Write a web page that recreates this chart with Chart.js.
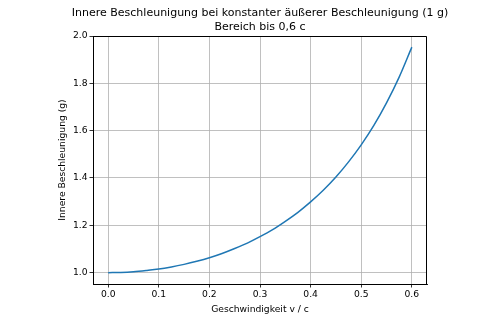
<!DOCTYPE html>
<html>
<head>
<meta charset="utf-8">
<script src="https://cdn.jsdelivr.net/npm/chart.js@4/dist/chart.umd.min.js"></script>
<style>
  html, body { margin: 0; padding: 0; background: #fff; }
  #wrap { width: 501px; height: 321px; }
</style>
</head>
<body>
<div id="wrap"><canvas id="chart"></canvas></div>
<script>
// values
var speeds = [0, 0.025, 0.05, 0.075, 0.1, 0.125, 0.15, 0.175, 0.2, 0.225, 0.25, 0.275, 0.3,
              0.325, 0.35, 0.375, 0.4, 0.425, 0.45, 0.475, 0.5, 0.525, 0.55, 0.575, 0.6];
var innerAccel = [1.000, 1.001, 1.004, 1.009, 1.015, 1.024, 1.035, 1.048, 1.063, 1.081, 1.102, 1.125, 1.152,
                  1.182, 1.217, 1.255, 1.299, 1.348, 1.404, 1.468, 1.540, 1.622, 1.717, 1.826, 1.953];
var xTicks = [0, 0.1, 0.2, 0.3, 0.4, 0.5, 0.6];
var yTicks = [1.0, 1.2, 1.4, 1.6, 1.8, 2.0];
var titleLines = ['Innere Beschleunigung bei konstanter äußerer Beschleunigung (1 g)', 'Bereich bis 0,6 c'];

var points = speeds.map(function (v, i) { return {x: v, y: innerAccel[i]}; });

var font = "'DejaVu Sans', sans-serif";
Chart.defaults.font.family = font;
Chart.defaults.color = '#000';

var ctx = document.getElementById('chart').getContext('2d');
new Chart(ctx, {
    type: 'line',
    data: {
        datasets: [{
            data: points,
            borderColor: '#1f77b4',
            borderWidth: 1.5,
            pointRadius: 0,
            fill: false,
            cubicInterpolationMode: 'monotone'
        }]
    },
    options: {
        responsive: true,
        maintainAspectRatio: false,
        animation: false,
        layout: {padding: {left: 0, right: 74, top: 36, bottom: 6}},
        plugins: {
            legend: {display: false},
            tooltip: {enabled: false},
            title: {display: false}
        },
        scales: {
            x: {
                type: 'linear',
                min: -0.03,
                max: 0.63,
                afterBuildTicks: function (scale) { scale.ticks = xTicks.map(function (v) { return {value: v}; }); },
                afterFit: function (scale) { scale.height = 31; },
                ticks: {
                    font: {size: 9.2},
                    color: '#000',
                    padding: 2,
                    maxRotation: 0,
                    callback: function (v) { return v.toFixed(1); }
                },
                grid: {color: '#b0b0b0', lineWidth: 0.8, tickColor: '#000', tickLength: 3.5},
                border: {color: '#000', width: 1},
                title: {display: true, text: 'Geschwindigkeit v / c', font: {size: 9.2}, color: '#000', padding: 0}
            },
            y: {
                type: 'linear',
                min: 0.952,
                max: 2.0,
                afterBuildTicks: function (scale) { scale.ticks = yTicks.map(function (v) { return {value: v}; }); },
                afterFit: function (scale) { scale.width = 93; },
                ticks: {
                    font: {size: 9.2},
                    color: '#000',
                    padding: 2,
                    callback: function (v) { return v.toFixed(1); }
                },
                grid: {color: '#b0b0b0', lineWidth: 0.8, tickColor: '#000', tickLength: 3.5},
                border: {color: '#000', width: 1},
                title: {display: true, text: 'Innere Beschleunigung (g)', font: {size: 9.2}, color: '#000', padding: {top: 57}}
            }
        }
    },
    plugins: [{
        id: 'frameAndTitle',
        afterDraw: function (chart) {
            var a = chart.chartArea, c = chart.ctx;
            c.save();
            c.strokeStyle = '#000';
            c.lineWidth = 1;
            c.beginPath();
            c.moveTo(a.left, a.top + 0.5);
            c.lineTo(a.right - 0.5, a.top + 0.5);
            c.lineTo(a.right - 0.5, a.bottom);
            c.stroke();
            c.fillStyle = '#000';
            c.font = '11px ' + font;
            c.textAlign = 'center';
            c.textBaseline = 'middle';
            var cx = (a.left + a.right) / 2;
            c.fillText(titleLines[0], cx, 13);
            c.fillText(titleLines[1], cx, 27);
            c.restore();
        }
    }]
});
</script>
</body>
</html>
